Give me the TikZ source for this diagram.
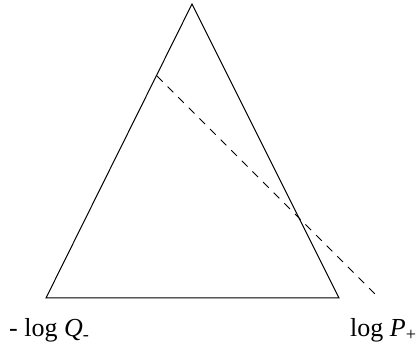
\documentclass[tikz,border=0pt]{standalone}
\usepackage{fontspec}
\setmainfont{Liberation Serif}
\begin{document}
\begin{tikzpicture}[
  x=1pt, y=-1pt,
  edge/.style={draw, line width=1pt, line join=miter},
  cut/.style={draw, line width=0.9pt, dash pattern=on 8pt off 7pt},
  lbl/.style={inner sep=0pt, anchor=base west, font=\fontsize{26}{28}\selectfont}
]
  \useasboundingbox (0,0) rectangle (418,347);

  \coordinate (top)   at (192,4);
  \coordinate (left)  at (46,298);
  \coordinate (right) at (339,298);
  \coordinate (cutA)  at (157,76);
  \coordinate (cutB)  at (379,298);

  \draw[edge] (top) -- (right) -- (left) -- cycle;
  \draw[cut] (cutA) -- (cutB);

  \node[lbl] (qlabel) at (9,337)   {- log \textit{Q}\textsubscript{-}};
  \node[lbl] (plabel) at (350,337) {log \textit{P}\textsubscript{+}};
\end{tikzpicture}
\end{document}
